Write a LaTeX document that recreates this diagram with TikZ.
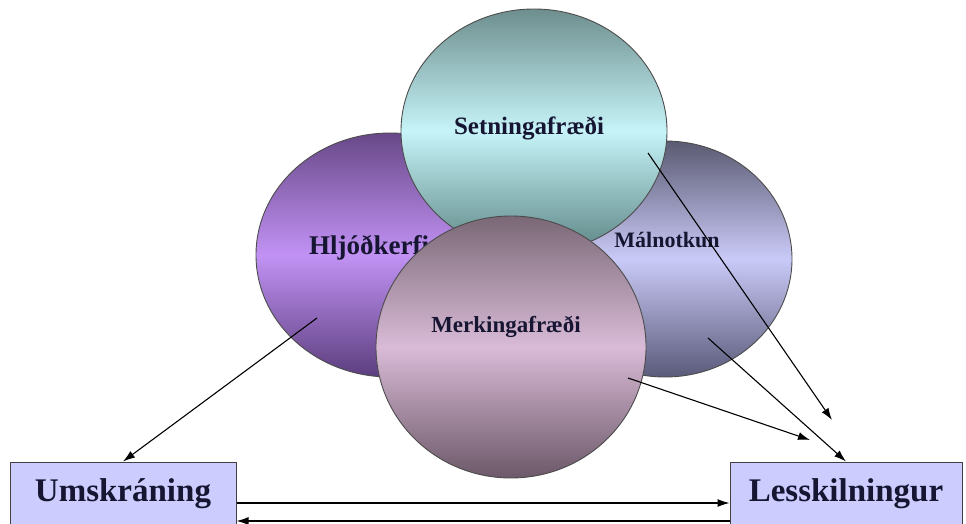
\documentclass[tikz,border=0pt]{standalone}
\usepackage{fontspec}
\setmainfont{Liberation Serif}
\usetikzlibrary{shapes.geometric,arrows.meta}
\definecolor{boxfill}{HTML}{CCCCFF}
\definecolor{inkcolor}{HTML}{161632}
\definecolor{hljtop}{HTML}{684888}
\definecolor{hljmid}{HTML}{C192F4}
\definecolor{hljbot}{HTML}{5C3E7E}
\definecolor{maltop}{HTML}{5A5A72}
\definecolor{malmid}{HTML}{CACAF8}
\definecolor{malbot}{HTML}{5A5A7A}
\definecolor{settop}{HTML}{6E8E8E}
\definecolor{setmid}{HTML}{C6F4F8}
\definecolor{setbot}{HTML}{5C8484}
\definecolor{mertop}{HTML}{7A6876}
\definecolor{mermid}{HTML}{D9BBD7}
\definecolor{merbot}{HTML}{6C5868}
\begin{document}
\begin{tikzpicture}
[x=1pt,y=-1pt,
  blobdecorate/.style={shape=ellipse,draw=black!70,line width=0.9pt,inner sep=0pt},%
  worddecorate/.style={font=\bfseries,text=inkcolor,inner sep=0pt},%
  boxdecorate/.style={shape=rectangle,draw=black!75,line width=1pt,fill=boxfill,
    inner sep=0pt,minimum height=64pt,font=\bfseries\fontsize{33}{36}\selectfont,text=inkcolor},%
  linedecorate/.style={-{Latex[length=12pt,width=8pt]},line width=1.1pt}]
\useasboundingbox (0,0) rectangle (966,524);
%% circles with their words, back to front
\foreach \nodename/\x/\y/\w/\h/\ctop/\cmid/\cbot/\word/\wx/\wy/\wsize/\wanchor in {
  hljod/390/255/268/244/hljtop/hljmid/hljbot/Hljóðkerfi/309/248/27/west,
  malnot/665/259/254/236/maltop/malmid/malbot/Málnotkun/667/240/22/center,
  setning/534/131/266/244/settop/setmid/setbot/Setningafræði/529/128/25/center,
  merking/511/347/270/262/mertop/mermid/merbot/Merkingafræði/506/327/23/center} {
  \node (\nodename) at (\x,\y) [blobdecorate,minimum width=\w pt,minimum height=\h pt,
    top color=\ctop,bottom color=\cbot,middle color=\cmid] {};
  \node (\nodename word) at (\wx,\wy) [worddecorate,anchor=\wanchor,
    font=\bfseries\fontsize{\wsize}{\wsize}\selectfont] {\word};
}
%% boxes
\node (ums) at (123,494) [boxdecorate,minimum width=226pt] {Umskráning};
\node (les) at (846,494) [boxdecorate,minimum width=232pt] {Lesskilningur};
%% loose ends of the arrows
\foreach \pointname/\x/\y in {hljodout/317/318, setout/648/153, malout/708/338,
  merkout/628/378, lestipA/832/420, lestipB/810/440} {
  \coordinate (\pointname) at (\x,\y);
}
%% arrows
\draw[linedecorate] (hljodout) -- (ums.north);
\draw[linedecorate] (setout) -- (lestipA);
\draw[linedecorate] (malout) -- (les.north);
\draw[linedecorate] (merkout) -- (lestipB);
\draw[linedecorate] ([yshift=-9pt]ums.east) -- ([yshift=-9pt]les.west);
\draw[linedecorate] ([yshift=-27pt]les.west) -- ([yshift=-27pt]ums.east);
\end{tikzpicture}
\end{document}
